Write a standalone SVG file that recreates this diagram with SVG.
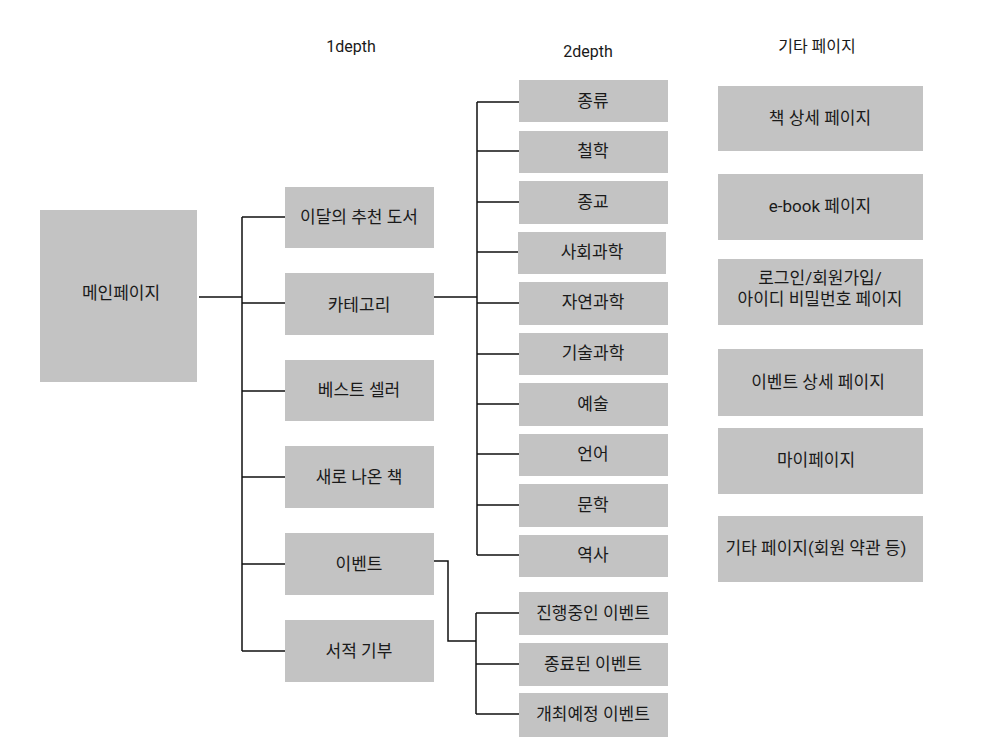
<svg xmlns="http://www.w3.org/2000/svg" width="997" height="753" viewBox="0 0 997 753">
<style>
  .box { fill: #c3c3c3; }
  .t { font-family: Roboto, "Noto Sans CJK KR", sans-serif; font-size: 17px; fill: #1a1a1a; text-anchor: middle; dominant-baseline: central; }
  .h { font-family: Roboto, "Noto Sans CJK KR", sans-serif; font-size: 16px; fill: #1a1a1a; text-anchor: middle; }
  .c { fill: none; stroke: #111; stroke-width: 1.5; }
</style>
<rect width="997" height="753" fill="#ffffff"/>
<g id="headers">
  <text class="h" x="351" y="52">1depth</text>
  <text class="h" x="588" y="57">2depth</text>
  <text class="h" x="817" y="52">기타 페이지</text>
</g>
<g id="connectors">
  <path class="c" d="M199 297 H242 M242 217 V651 M242 217 H285 M242 303 H285 M242 391 H285 M242 477 H285 M242 564 H285 M242 651 H285"/>
  <path class="c" d="M434 297 H477 M477 102 V555 M477 102 H519 M477 151 H519 M477 202 H519 M477 252 H518 M477 303 H519 M477 354 H519 M477 404 H519 M477 454 H519 M477 505 H519 M477 555 H519"/>
  <path class="c" d="M434 561 H448 V641 H476 M476 613 V714 M476 613 H519 M476 664 H519 M476 714 H519"/>
</g>
<g id="main"><rect class="box" x="40" y="210" width="157" height="172"/><text class="t" x="121" y="293">메인페이지</text></g>
<g id="d1-1"><rect class="box" x="285" y="187" width="149" height="61"/><text class="t" x="359" y="217">이달의 추천 도서</text></g>
<g id="d1-2"><rect class="box" x="285" y="273" width="149" height="62"/><text class="t" x="359" y="305">카테고리</text></g>
<g id="d1-3"><rect class="box" x="285" y="360" width="149" height="61"/><text class="t" x="359" y="390">베스트 셀러</text></g>
<g id="d1-4"><rect class="box" x="285" y="446" width="149" height="62"/><text class="t" x="359" y="477">새로 나온 책</text></g>
<g id="d1-5"><rect class="box" x="285" y="533" width="149" height="62"/><text class="t" x="359" y="564">이벤트</text></g>
<g id="d1-6"><rect class="box" x="285" y="620" width="149" height="62"/><text class="t" x="359" y="651">서적 기부</text></g>
<g id="d2-1"><rect class="box" x="519" y="80" width="149" height="42"/><text class="t" x="593" y="101">종류</text></g>
<g id="d2-2"><rect class="box" x="519" y="131" width="149" height="42"/><text class="t" x="593" y="151">철학</text></g>
<g id="d2-3"><rect class="box" x="519" y="181" width="149" height="43"/><text class="t" x="593" y="202">종교</text></g>
<g id="d2-4"><rect class="box" x="518" y="232" width="148" height="42"/><text class="t" x="592" y="252">사회과학</text></g>
<g id="d2-5"><rect class="box" x="519" y="282" width="149" height="43"/><text class="t" x="593" y="302">자연과학</text></g>
<g id="d2-6"><rect class="box" x="519" y="333" width="149" height="42"/><text class="t" x="593" y="353">기술과학</text></g>
<g id="d2-7"><rect class="box" x="519" y="383" width="149" height="43"/><text class="t" x="593" y="404">예술</text></g>
<g id="d2-8"><rect class="box" x="519" y="434" width="149" height="42"/><text class="t" x="593" y="454">언어</text></g>
<g id="d2-9"><rect class="box" x="519" y="484" width="149" height="43"/><text class="t" x="593" y="505">문학</text></g>
<g id="d2-10"><rect class="box" x="519" y="535" width="149" height="42"/><text class="t" x="593" y="555">역사</text></g>
<g id="ev-1"><rect class="box" x="519" y="592" width="149" height="43"/><text class="t" x="593" y="613">진행중인 이벤트</text></g>
<g id="ev-2"><rect class="box" x="519" y="643" width="149" height="43"/><text class="t" x="593" y="664">종료된 이벤트</text></g>
<g id="ev-3"><rect class="box" x="519" y="693" width="149" height="44"/><text class="t" x="593" y="714">개최예정 이벤트</text></g>
<g id="o-1"><rect class="box" x="718" y="86" width="205" height="65"/><text class="t" x="820" y="118">책 상세 페이지</text></g>
<g id="o-2"><rect class="box" x="718" y="174" width="205" height="66"/><text class="t" x="820" y="206">e-book 페이지</text></g>
<g id="o-3"><rect class="box" x="718" y="259" width="205" height="66"/><text class="t" x="820" y="278">로그인/회원가입/</text><text class="t" x="820" y="299">아이디 비밀번호 페이지</text></g>
<g id="o-4"><rect class="box" x="718" y="349" width="205" height="67"/><text class="t" x="818" y="382">이벤트 상세 페이지</text></g>
<g id="o-5"><rect class="box" x="718" y="428" width="205" height="66"/><text class="t" x="816" y="460">마이페이지</text></g>
<g id="o-6"><rect class="box" x="718" y="516" width="205" height="66"/><text class="t" x="816" y="548">기타 페이지(회원 약관 등)</text></g>
</svg>
